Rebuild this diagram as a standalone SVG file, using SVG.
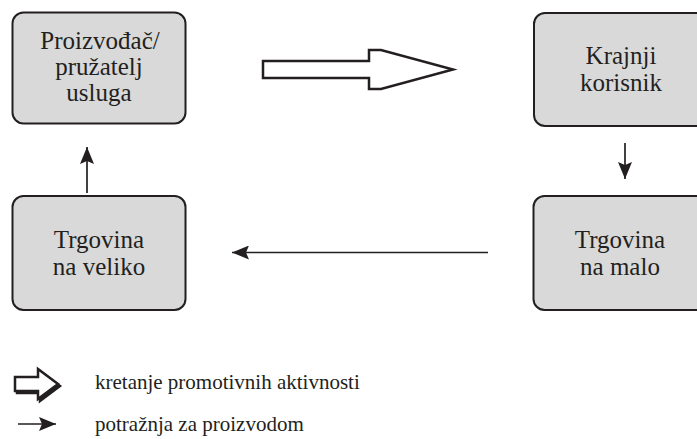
<svg xmlns="http://www.w3.org/2000/svg" width="697" height="439" viewBox="0 0 697 439">
<defs>
<style>
.box{fill:#d9d9d9;stroke:#231f20;stroke-width:2}
.t{font-family:'Liberation Serif',serif;font-size:25px;fill:#231f20;text-anchor:middle}
.lg{font-family:'Liberation Serif',serif;font-size:21px;fill:#231f20}
.ln{stroke:#231f20;stroke-width:1.7;fill:none}
.hollow{fill:#fff;stroke:#231f20;stroke-width:2.5;stroke-linejoin:miter}
</style>
<marker id="ah" viewBox="0 0 17 14" refX="17" refY="7" markerWidth="17" markerHeight="14" markerUnits="userSpaceOnUse" orient="auto">
<path d="M0,0 L17,7 L0,14 L3,7 Z" fill="#231f20"/>
</marker>
</defs>
<rect width="697" height="439" fill="#fff"/>
<g id="proizvodac">
<rect class="box" x="12.5" y="12.5" width="173" height="111" rx="11"/>
<text class="t" x="100" y="49">Proizvođač/</text>
<text class="t" x="99" y="75">pružatelj</text>
<text class="t" x="99" y="101">usluga</text>
</g>
<g id="krajnji">
<rect class="box" x="534" y="13" width="173" height="113" rx="11"/>
<text class="t" x="621" y="64">Krajnji</text>
<text class="t" x="621" y="91">korisnik</text>
</g>
<g id="veliko">
<rect class="box" x="12.5" y="196" width="173" height="114" rx="11"/>
<text class="t" x="99" y="248">Trgovina</text>
<text class="t" x="99" y="275">na veliko</text>
</g>
<g id="malo">
<rect class="box" x="533.5" y="196" width="173" height="114" rx="11"/>
<text class="t" x="620" y="248">Trgovina</text>
<text class="t" x="620" y="275">na malo</text>
</g>
<g id="connectors">
<polygon class="hollow" points="263,61 369,61 369,50 381,50 453,69.5 381,89 369,89 369,78 263,78"/>
<line class="ln" x1="625" y1="143" x2="625" y2="179" marker-end="url(#ah)"/>
<line class="ln" x1="488" y1="252.5" x2="232" y2="252.5" marker-end="url(#ah)"/>
<line class="ln" x1="87" y1="193" x2="87" y2="147" marker-end="url(#ah)"/>
</g>
<g id="legend">
<polygon points="17,379 40,379 40,371 60,386 40,401 40,393 17,393" fill="#231f20" stroke="#231f20" stroke-width="2.5"/>
<polygon class="hollow" points="15,377 38,377 38,369 58,384 38,399 38,391 15,391"/>
<text class="lg" x="95" y="389">kretanje promotivnih aktivnosti</text>
<line class="ln" x1="18" y1="424" x2="56" y2="424" marker-end="url(#ah)"/>
<text class="lg" x="95" y="431">potražnja za proizvodom</text>
</g>
</svg>
